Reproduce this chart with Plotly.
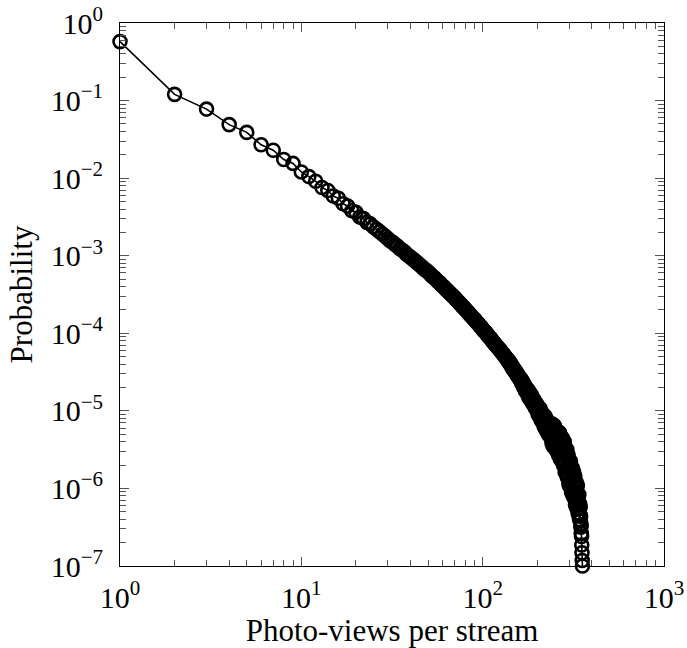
import numpy as np
import plotly.graph_objects as go

# Photo-views per stream (integer counts) and log10 of their probability
photo_views = list(range(1, 356))

log10_probability = [
    # 1-11
    -0.24, -0.92, -1.11, -1.31, -1.41, -1.57, -1.64, -1.76, -1.81, -1.92, -1.98,
    # 12-25
    -2.04, -2.12, -2.16, -2.23, -2.26, -2.33, -2.36, -2.42, -2.44, -2.50, -2.52, -2.57, -2.59, -2.63,
    # 26-41
    -2.66, -2.69, -2.72, -2.75, -2.78, -2.81, -2.83, -2.86, -2.88, -2.91, -2.93, -2.95, -2.98, -3.00, -3.02, -3.04,
    # 42-87
    -3.06, -3.08, -3.10, -3.12, -3.14, -3.16, -3.18, -3.19, -3.21, -3.23,
    -3.25, -3.27, -3.28, -3.30, -3.32, -3.34, -3.35, -3.37, -3.39, -3.40,
    -3.42, -3.44, -3.45, -3.47, -3.48, -3.50, -3.51, -3.53, -3.54, -3.56,
    -3.57, -3.59, -3.60, -3.62, -3.63, -3.65, -3.66, -3.67, -3.69, -3.70,
    -3.72, -3.73, -3.74, -3.76, -3.77, -3.78,
    # 88-137
    -3.80, -3.81, -3.82,
    -3.83, -3.85, -3.86, -3.87, -3.88, -3.90, -3.91, -3.92, -3.93, -3.95,
    -3.96, -3.97, -3.98, -3.99, -4.00, -4.02, -4.03, -4.04, -4.05, -4.06,
    -4.07, -4.08, -4.10, -4.11, -4.12, -4.13, -4.14, -4.15, -4.16, -4.17,
    -4.18, -4.19, -4.20, -4.21, -4.22, -4.23, -4.24, -4.25, -4.26, -4.27,
    -4.28, -4.29, -4.30, -4.31, -4.32, -4.33, -4.34,
    # 138-149
    -4.34, -4.37, -4.36, -4.39, -4.38, -4.41, -4.41, -4.44, -4.43, -4.46, -4.45, -4.48,
    # 150-162
    -4.47, -4.50, -4.49, -4.52, -4.51, -4.54, -4.53, -4.56, -4.55, -4.58, -4.57, -4.60, -4.59,
    # 163-175
    -4.59, -4.64, -4.62, -4.66, -4.63, -4.69, -4.66, -4.71, -4.68, -4.74, -4.70, -4.75, -4.72,
    # 176-200
    -4.73, -4.79, -4.73, -4.79, -4.83, -4.76, -4.80, -4.85, -4.80, -4.79,
    -4.87, -4.84, -4.90, -4.84, -4.90, -4.85, -4.93, -4.90, -4.88, -4.96,
    -4.91, -4.96, -4.91, -4.99, -4.96,
    # 201-217
    -4.94, -5.04, -4.98, -5.06, -4.96, -5.04, -4.97, -5.08, -5.04, -5.12,
    -5.02, -5.11, -5.04, -5.14, -5.04, -5.13, -5.09,
    # 218-240
    -5.20, -5.08, -5.16, -5.07, -5.22, -5.13, -5.25, -5.12, -5.20, -5.12,
    -5.25, -5.19, -5.30, -5.18, -5.26, -5.16, -5.31, -5.24, -5.20, -5.34,
    -5.25, -5.32, -5.22,
    # 241-260
    -5.41, -5.17, -5.35, -5.23, -5.46, -5.26, -5.41, -5.19, -5.37, -5.25,
    -5.48, -5.32, -5.43, -5.24, -5.51, -5.31, -5.44, -5.28, -5.49, -5.37,
    # 261-280
    -5.29, -5.57, -5.37, -5.52, -5.28, -5.49, -5.35, -5.62, -5.45, -5.60,
    -5.34, -5.56, -5.41, -5.65, -5.35, -5.54, -5.64, -5.41, -5.70, -5.49,
    # 281-300
    -5.69, -5.40, -5.64, -5.50, -5.79, -5.58, -5.49, -5.79, -5.57, -5.78,
    -5.50, -5.72, -5.86, -5.59, -5.80, -5.57, -5.87, -5.71, -5.95, -5.69,
    # 301-320
    -5.64, -5.97, -5.75, -5.92, -5.65, -5.89, -5.99, -5.75, -6.05, -5.80,
    -5.73, -6.02, -5.88, -6.08, -5.80, -6.01, -5.78, -6.11, -5.92, -6.09,
    # 321-345
    -6.13, -5.84, -6.07, -5.92, -6.21, -5.98, -6.16, -5.92, -6.10, -6.25,
    -5.97, -6.20, -5.96, -6.26, -6.11, -6.32, -6.09, -6.26, -6.08, -6.35,
    -6.20, -6.40, -6.20, -6.34, -6.24,
    # 346-355
    -6.42, -6.36, -6.50, -6.47, -6.58, -6.62, -6.73, -6.83, -6.93, -7.00,
]

probability = np.power(10.0, np.array(log10_probability))

x_tick_vals = [1, 10, 100, 1000]
x_tick_text = ["10<sup>0</sup>", "10<sup>1</sup>", "10<sup>2</sup>", "10<sup>3</sup>"]
y_tick_vals = [1e-7, 1e-6, 1e-5, 1e-4, 1e-3, 1e-2, 1e-1, 1]
y_tick_text = ["10<sup>\u22127</sup>", "10<sup>\u22126</sup>", "10<sup>\u22125</sup>",
               "10<sup>\u22124</sup>", "10<sup>\u22123</sup>", "10<sup>\u22122</sup>",
               "10<sup>\u22121</sup>", "10<sup>0</sup>"]

x_minor = [m * 10 ** d for d in range(0, 3) for m in range(2, 10)]
y_minor = [m * 10.0 ** d for d in range(-7, 0) for m in range(2, 10)]

FONT = "Liberation Serif"
TICK_COLOR = "#555555"

fig = go.Figure()
fig.add_trace(go.Scatter(
    x=photo_views,
    y=probability,
    mode="lines+markers",
    line=dict(color="black", width=1.6),
    marker=dict(symbol="circle-open", size=13, color="black", line=dict(width=2.6, color="black")),
    cliponaxis=False,
    showlegend=False,
))

axis_common = dict(
    type="log",
    automargin=False,
    showgrid=False,
    zeroline=False,
    showline=True,
    linecolor="black",
    linewidth=1,
    mirror="ticks",
    ticks="inside",
    ticklen=9,
    tickwidth=1,
    tickcolor=TICK_COLOR,
    tickmode="array",
    tickfont=dict(family=FONT, size=30, color="black"),
)

fig.update_xaxes(
    **axis_common,
    range=[0, 3],
    tickvals=x_tick_vals,
    ticktext=x_tick_text,
    ticklabelstandoff=5,
    minor=dict(tickmode="array", tickvals=x_minor, ticks="inside", ticklen=6,
               tickwidth=1, tickcolor=TICK_COLOR, showgrid=False),
    title=dict(text="Photo-views per stream", font=dict(family=FONT, size=31, color="black"), standoff=4),
)
fig.update_yaxes(
    **axis_common,
    range=[-7, 0],
    tickvals=y_tick_vals,
    ticktext=y_tick_text,
    ticklabelstandoff=10,
    minor=dict(tickmode="array", tickvals=y_minor, ticks="inside", ticklen=6,
               tickwidth=1, tickcolor=TICK_COLOR, showgrid=False),
    title=dict(text="Probability", font=dict(family=FONT, size=31, color="black"), standoff=8),
)

fig.update_layout(
    width=687,
    height=648,
    margin=dict(l=120, r=23, t=23, b=82),
    paper_bgcolor="white",
    plot_bgcolor="white",
)

fig.write_html("out.html")
